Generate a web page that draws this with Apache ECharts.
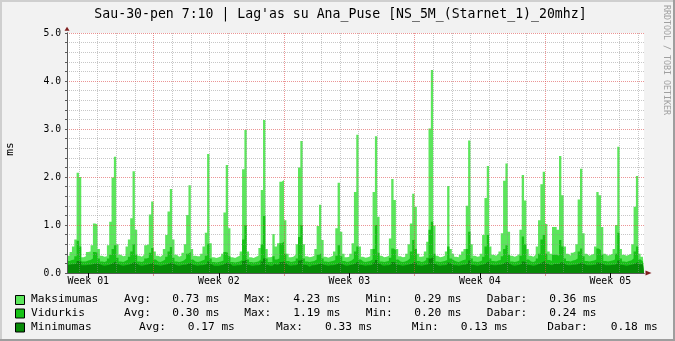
<!DOCTYPE html>
<html><head><meta charset="utf-8">
<script src="https://cdn.jsdelivr.net/npm/echarts@6/dist/echarts.min.js"></script>
<style>html,body{margin:0;padding:0;background:#F2F2F2;}#c{width:675px;height:341px;}</style>
</head><body><div id="c"></div>
<script>
// ---- data (hours measured from the first midnight shown on the chart) ----
const titleText = "Sau-30-pen 7:10 | Lag'as su Ana_Puse [NS_5M_(Starnet_1)_20mhz]";
const yUnit = 'ms';
const xStartHour = -15.36;
const xEndHour = 727.4;
const sampleStartHour = -15;
const sampleStepHours = 3;
const weekLabels = ['Week 01', 'Week 02', 'Week 03', 'Week 04', 'Week 05'];
const weekLabelHours = [12, 180, 348, 516, 684];
const weekLineHours = [96, 264, 432, 600];
const dayLineHours = [0, 24, 48, 72, 120, 144, 168, 192, 216, 240, 288, 312, 336, 360, 384, 408,
  456, 480, 504, 528, 552, 576, 624, 648, 672, 696, 720];

const maxVals = [
0.36,0.44,0.55,0.70,2.09,
2.00,0.33,0.35,0.44,0.45,0.58,1.03,1.01,
0.50,0.36,0.34,0.35,0.58,1.07,1.99,2.42,
0.60,0.38,0.35,0.36,0.55,0.70,1.14,2.12,
0.90,0.36,0.34,0.38,0.58,0.60,1.22,1.49,
0.45,0.36,0.34,0.38,0.50,0.79,1.28,1.75,
0.70,0.38,0.34,0.36,0.42,0.60,1.21,1.83,
0.50,0.36,0.35,0.35,0.40,0.55,0.84,2.48,
0.62,0.33,0.31,0.33,0.35,0.40,1.26,2.25,
0.93,0.33,0.31,0.34,0.36,0.45,2.16,2.98,
0.45,0.33,0.31,0.34,0.36,0.52,1.73,3.19,
0.50,0.33,0.34,0.81,0.55,0.62,1.90,1.94,
1.10,0.40,0.33,0.34,0.38,0.60,2.20,2.75,
0.60,0.35,0.33,0.34,0.36,0.50,0.98,1.42,
0.69,0.34,0.32,0.34,0.36,0.45,0.93,1.88,
0.86,0.40,0.33,0.34,0.40,0.62,1.69,2.88,
0.55,0.34,0.32,0.33,0.35,0.50,1.69,2.85,
1.17,0.36,0.33,0.34,0.36,0.72,1.96,1.52,
0.50,0.35,0.33,0.34,0.40,0.60,1.03,1.65,
1.38,0.40,0.34,0.35,0.45,0.65,3.01,4.23,
0.99,0.36,0.33,0.34,0.36,0.45,1.81,0.50,
0.40,0.34,0.33,0.38,0.45,0.50,1.40,2.76,
0.60,0.36,0.34,0.35,0.40,0.79,1.56,2.23,
0.55,0.38,0.36,0.40,0.45,0.83,1.92,2.28,
0.86,0.36,0.34,0.36,0.40,0.90,2.04,1.51,
0.50,0.36,0.34,0.38,0.55,1.10,1.85,2.11,
1.02,0.45,0.40,0.96,0.96,0.90,2.44,1.62,
0.55,0.40,0.36,0.42,0.45,0.60,1.53,2.17,
0.83,0.40,0.36,0.38,0.40,0.55,1.69,1.62,
0.96,0.40,0.36,0.38,0.40,0.50,1.00,2.63,
0.50,0.38,0.36,0.38,0.40,0.60,1.38,2.02,
0.40,0.34,0.36
];
const avgVals = [
0.25,0.27,0.28,0.35,0.67,
0.55,0.24,0.24,0.26,0.27,0.30,0.44,0.42,
0.30,0.24,0.23,0.25,0.30,0.38,0.50,0.58,
0.32,0.24,0.23,0.25,0.28,0.34,0.45,0.60,
0.38,0.24,0.23,0.25,0.30,0.32,0.42,0.52,
0.28,0.24,0.23,0.25,0.28,0.34,0.45,0.54,
0.32,0.24,0.23,0.24,0.26,0.30,0.40,0.44,
0.28,0.24,0.23,0.24,0.26,0.28,0.36,0.61,
0.30,0.23,0.22,0.23,0.24,0.26,0.44,0.42,
0.35,0.23,0.22,0.23,0.24,0.27,0.70,1.00,
0.28,0.23,0.22,0.23,0.24,0.28,0.60,1.19,
0.30,0.23,0.23,0.35,0.28,0.30,0.62,0.65,
0.40,0.25,0.23,0.24,0.25,0.30,0.75,1.00,
0.30,0.24,0.23,0.24,0.25,0.28,0.38,0.41,
0.30,0.24,0.23,0.24,0.25,0.27,0.36,0.58,
0.35,0.25,0.23,0.24,0.26,0.30,0.45,0.55,
0.28,0.24,0.23,0.24,0.25,0.28,0.50,1.00,
0.42,0.24,0.23,0.24,0.25,0.32,0.51,0.48,
0.28,0.24,0.23,0.24,0.26,0.30,0.45,0.69,
0.50,0.25,0.23,0.24,0.27,0.32,0.90,1.07,
0.40,0.24,0.23,0.24,0.25,0.27,0.55,0.30,
0.26,0.24,0.23,0.25,0.27,0.28,0.50,0.86,
0.30,0.24,0.23,0.24,0.26,0.34,0.55,0.79,
0.30,0.25,0.24,0.26,0.27,0.35,0.50,0.58,
0.38,0.24,0.23,0.24,0.26,0.36,0.76,0.60,
0.28,0.24,0.23,0.25,0.30,0.40,0.70,0.79,
0.40,0.27,0.25,0.38,0.38,0.36,0.69,0.55,
0.30,0.25,0.24,0.26,0.27,0.30,0.45,0.51,
0.35,0.25,0.24,0.25,0.26,0.28,0.51,0.48,
0.38,0.25,0.24,0.25,0.26,0.28,0.40,0.84,
0.30,0.24,0.23,0.25,0.26,0.30,0.45,0.55,
0.28,0.24,0.24
];
const minVals = [
0.17,0.18,0.18,0.20,0.25,
0.24,0.16,0.16,0.17,0.17,0.18,0.20,0.20,
0.18,0.16,0.15,0.16,0.17,0.19,0.22,0.24,
0.18,0.16,0.15,0.16,0.17,0.18,0.21,0.23,
0.19,0.16,0.15,0.16,0.17,0.18,0.20,0.22,
0.17,0.16,0.15,0.16,0.17,0.18,0.21,0.22,
0.18,0.16,0.15,0.16,0.17,0.17,0.20,0.21,
0.17,0.16,0.15,0.16,0.16,0.17,0.19,0.24,
0.18,0.15,0.15,0.15,0.16,0.17,0.21,0.22,
0.19,0.15,0.15,0.16,0.16,0.17,0.25,0.28,
0.17,0.15,0.15,0.16,0.16,0.17,0.24,0.30,
0.17,0.15,0.15,0.19,0.17,0.18,0.23,0.24,
0.20,0.16,0.15,0.16,0.16,0.18,0.26,0.29,
0.17,0.16,0.13,0.16,0.16,0.17,0.19,0.20,
0.17,0.16,0.15,0.16,0.16,0.17,0.19,0.22,
0.19,0.16,0.15,0.16,0.17,0.18,0.22,0.24,
0.17,0.16,0.15,0.16,0.16,0.17,0.22,0.27,
0.20,0.16,0.15,0.16,0.16,0.18,0.23,0.22,
0.17,0.16,0.15,0.16,0.17,0.18,0.20,0.23,
0.21,0.16,0.15,0.16,0.17,0.18,0.30,0.33,
0.19,0.16,0.15,0.16,0.16,0.17,0.22,0.18,
0.16,0.16,0.15,0.16,0.17,0.17,0.21,0.26,
0.17,0.16,0.15,0.16,0.17,0.18,0.22,0.24,
0.17,0.16,0.16,0.17,0.17,0.19,0.22,0.23,
0.19,0.16,0.15,0.16,0.17,0.19,0.24,0.22,
0.17,0.16,0.15,0.16,0.18,0.20,0.23,0.25,
0.20,0.17,0.16,0.19,0.19,0.19,0.23,0.21,
0.17,0.16,0.16,0.17,0.17,0.18,0.21,0.22,
0.18,0.16,0.16,0.16,0.17,0.17,0.22,0.21,
0.19,0.16,0.16,0.16,0.17,0.17,0.20,0.26,
0.17,0.16,0.15,0.16,0.17,0.18,0.21,0.23,
0.18,0.18,0.18
];

const legendNames = ['Maksimumas', 'Vidurkis', 'Minimumas'];
const statAvg = ['0.73 ms', '0.30 ms', '0.17 ms'];
const statMax = ['4.23 ms', '1.19 ms', '0.33 ms'];
const statMin = ['0.29 ms', '0.20 ms', '0.13 ms'];
const statNow = ['0.36 ms', '0.24 ms', '0.18 ms'];
const statWords = ['Avg:', 'Max:', 'Min:', 'Dabar:'];
const watermark = 'RRDTOOL / TOBI OETIKER';

// ---- styling ----
const colors = ['#5BE65B', '#16C216', '#078A07'];
const MONO = '"DejaVu Sans Mono", monospace';
const GRID_C = 'rgba(143,143,143,0.5)';
const MGRID_C = 'rgba(222,79,79,0.6)';
const AXIS_C = '#5a5a5a';
const ARROW_C = '#801F1F';

function toPoints(vals) {
  const pts = vals.map((v, i) => [Math.max(xStartHour, sampleStartHour + sampleStepHours * i), v]);
  pts.push([xEndHour, vals[vals.length - 1]]);
  return pts;
}
function isInt(v) { return Math.abs(v - Math.round(v)) < 1e-6; }

const chart = echarts.init(document.getElementById('c'), null, {renderer: 'canvas'});

const graphic = [];
// frame
graphic.push({type: 'rect', shape: {x: 0, y: 0, width: 675, height: 2}, style: {fill: '#CFCFCF'}, silent: true});
graphic.push({type: 'rect', shape: {x: 0, y: 0, width: 2, height: 341}, style: {fill: '#CFCFCF'}, silent: true});
graphic.push({type: 'rect', shape: {x: 0, y: 339, width: 675, height: 2}, style: {fill: '#9E9E9E'}, silent: true});
graphic.push({type: 'rect', shape: {x: 673, y: 0, width: 2, height: 341}, style: {fill: '#9E9E9E'}, silent: true});
// title
graphic.push({type: 'text', x: 340.5, y: 14.7, silent: true,
  style: {text: titleText, font: '13.2px ' + MONO, fill: '#000', align: 'center', verticalAlign: 'middle'}});
// y unit
graphic.push({type: 'text', x: 10.5, y: 149, rotation: Math.PI / 2, silent: true,
  style: {text: yUnit, font: '11.2px ' + MONO, fill: '#000', align: 'center', verticalAlign: 'middle'}});
// watermark
graphic.push({type: 'text', x: 666.5, y: 5, rotation: -Math.PI / 2, silent: true,
  style: {text: watermark, font: '8.3px ' + MONO, fill: '#A0A0A0', align: 'left', verticalAlign: 'middle'}});

const rowY = [299.4, 312.8, 327.1];
const boxY = [295, 308.5, 322.5];
const colX = [
  [124, 172.3, 244.3, 293.3, 365.7, 414.3, 486.7, 549.3],
  [124, 172.3, 244.3, 293.3, 365.7, 414.3, 486.7, 549.3],
  [139, 187.7, 276, 325, 411.7, 460.7, 547.3, 610.7]
];
legendNames.forEach((name, r) => {
  graphic.push({type: 'rect', shape: {x: 15.5, y: boxY[r] + 0.5, width: 9, height: 9}, silent: true,
    style: {fill: colors[r], stroke: '#000', lineWidth: 1}});
  const pieces = [name, statWords[0], statAvg[r], statWords[1], statMax[r], statWords[2], statMin[r], statWords[3], statNow[r]];
  const xs = [31].concat(colX[r]);
  pieces.forEach((t, k) => {
    graphic.push({type: 'text', x: xs[k], y: rowY[r], silent: true,
      style: {text: t, font: '11.2px ' + MONO, fill: '#000', align: 'left', verticalAlign: 'middle'}});
  });
});

const option = {
  animation: false,
  backgroundColor: '#F2F2F2',
  grid: {left: 67, right: 31, top: 33, bottom: 68, show: true, backgroundColor: '#FFFFFF', borderWidth: 0,
    containLabel: false, outerBoundsMode: 'none'},
  xAxis: [
    {type: 'value', min: xStartHour, max: xEndHour, position: 'bottom', z: 6,
      axisLine: {show: true, onZero: false, lineStyle: {color: AXIS_C, width: 1}},
      axisTick: {show: true, customValues: weekLabelHours, length: 5, lineStyle: {color: '#000'}},
      axisLabel: {show: true, customValues: weekLabelHours, margin: 3, color: '#000',
        fontFamily: MONO, fontSize: 9.9,
        formatter: v => weekLabels[weekLabelHours.indexOf(Math.round(v))] || ''},
      splitLine: {show: false}},
    {type: 'value', min: xStartHour, max: xEndHour, position: 'bottom', z: 5,
      axisLine: {show: false, onZero: false},
      axisTick: {show: false, customValues: dayLineHours},
      axisLabel: {show: false, customValues: dayLineHours},
      splitLine: {show: true, lineStyle: {color: GRID_C, width: 1, type: [1, 1]}}},
    {type: 'value', min: xStartHour, max: xEndHour, position: 'bottom', z: 4,
      axisLine: {show: true, onZero: false, symbol: ['none', 'triangle'], symbolSize: [5, 6], symbolOffset: [0, 4.5],
        lineStyle: {color: ARROW_C, width: 1}},
      axisTick: {show: true, customValues: weekLineHours, length: 3, lineStyle: {color: MGRID_C}},
      axisLabel: {show: false, customValues: weekLineHours},
      splitLine: {show: true, lineStyle: {color: MGRID_C, width: 1, type: [1, 1]}}}
  ],
  yAxis: [
    {type: 'value', min: 0, max: 5, interval: 0.2, position: 'left', z: 6,
      axisLine: {show: true, onZero: false, lineStyle: {color: AXIS_C, width: 1}},
      axisTick: {show: true, length: 2, lineStyle: {color: AXIS_C}},
      axisLabel: {show: true, margin: 6, color: '#000', fontFamily: MONO, fontSize: 9.7,
        formatter: v => isInt(v) ? Math.round(v).toFixed(1) : ''},
      splitLine: {show: true, lineStyle: {color: [MGRID_C, GRID_C, GRID_C, GRID_C, GRID_C], width: 1, type: [1, 1]}}},
    {type: 'value', min: 0, max: 5, position: 'left', z: 4,
      axisLine: {show: true, onZero: false, symbol: ['none', 'triangle'], symbolSize: [5, 4], symbolOffset: [0, 4.3],
        lineStyle: {color: ARROW_C, width: 1}},
      axisTick: {show: false}, axisLabel: {show: false}, splitLine: {show: false}}
  ],
  series: [maxVals, avgVals, minVals].map((vals, k) => ({
    type: 'line', name: legendNames[k], xAxisIndex: 0, yAxisIndex: 0,
    data: toPoints(vals), step: 'end', symbol: 'none', showSymbol: false, silent: true,
    lineStyle: {width: 0}, areaStyle: {color: colors[k], opacity: 1}, z: 2
  })),
  graphic: graphic
};
chart.setOption(option);
</script>
</body></html>
